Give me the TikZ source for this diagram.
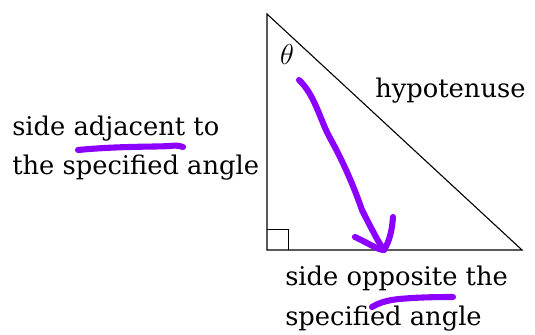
\documentclass[tikz,border=0pt]{standalone}
\usepackage{fontspec}
\setmainfont{DejaVu Serif}
\usetikzlibrary{positioning}

\definecolor{pen}{RGB}{140,0,255}
\tikzset{
  label text/.style={font=\fontsize{18.6}{22}\selectfont, inner sep=0pt, anchor=base west},
  ink/.style={pen, line width=4.4pt, line cap=round, line join=round},
}

\begin{document}
\begin{tikzpicture}[x=1in,y=1in]
\useasboundingbox (0,-3.35) rectangle (5.35,0);
% triangle
\coordinate (top) at (2.67,-0.14);
\coordinate (corner) at (2.67,-2.50);
\coordinate (right) at (5.22,-2.50);
\draw[black, line width=0.8pt] (top) -- (corner) -- (right) -- cycle;
\draw[black, line width=0.7pt] (2.67,-2.29) -- (2.88,-2.29) -- (2.88,-2.50);
\node[font=\fontsize{20}{22}\selectfont] (theta) at (2.87,-0.55) {$\theta$};
% labels
\node[label text] (hyp) at (3.75,-0.97) {hypotenuse};
\node[label text] (adj1) at (0.12,-1.35) {side adjacent to};
\node[label text] (adj2) at (0.12,-1.74) {the specified angle};
\node[label text] (opp1) at (2.85,-2.85) {side opposite the};
\node[label text] (opp2) at (2.85,-3.25) {specified angle};
% pen marks
\draw[ink] (0.78,-1.50) .. controls (1.20,-1.46) and (1.55,-1.47) .. (1.70,-1.46)
  .. controls (1.76,-1.45) and (1.80,-1.46) .. (1.83,-1.47);
\draw[ink] (3.72,-3.07) .. controls (3.85,-2.99) and (4.00,-2.99) .. (4.12,-2.98)
  .. controls (4.30,-2.97) and (4.45,-2.97) .. (4.53,-2.97);
\draw[ink] (2.99,-0.80) .. controls (3.15,-0.95) and (3.20,-1.20) .. (3.30,-1.38)
  .. controls (3.45,-1.65) and (3.55,-1.90) .. (3.62,-2.10)
  .. controls (3.72,-2.30) and (3.80,-2.45) .. (3.84,-2.50);
\draw[ink] (3.55,-2.37) .. controls (3.70,-2.44) and (3.78,-2.50) .. (3.84,-2.50)
  .. controls (3.90,-2.40) and (3.92,-2.30) .. (3.93,-2.17);
\end{tikzpicture}
\end{document}
